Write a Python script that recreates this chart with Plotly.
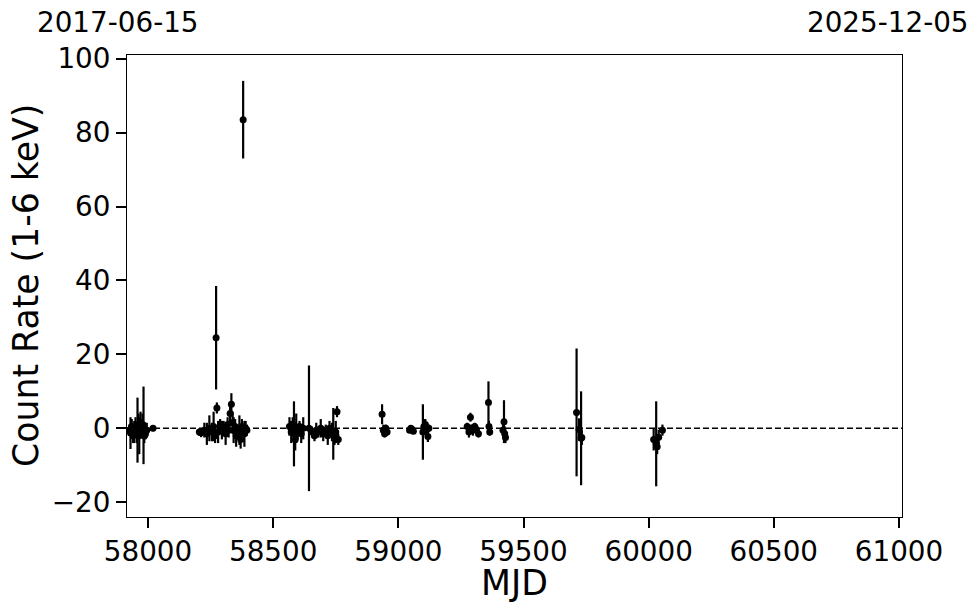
import plotly.graph_objects as go

# --- data (MJD, count rate, 1-sigma error) ---
mjd = [
    57925, 57930, 57935, 57940, 57945, 57950, 57955, 57958, 57962, 57965,
    57970, 57975, 57978, 57982, 57985, 57990, 57995, 58020,
    58205, 58212, 58225, 58235, 58245, 58255, 58262, 58268, 58272, 58275,
    58280, 58288, 58295, 58302, 58310, 58318, 58322, 58328, 58333, 58338,
    58342, 58348, 58352, 58358, 58365, 58370, 58375, 58380, 58385, 58390, 58395,
    58565, 58572, 58578, 58583, 58588, 58592, 58598, 58605, 58612, 58620,
    58643, 58655, 58665, 58672, 58680, 58690, 58700, 58710, 58718, 58725,
    58735, 58740, 58745, 58750, 58755, 58760,
    58935, 58940, 58945, 58950, 58955,
    59045, 59050, 59055, 59060,
    59098, 59102, 59108, 59112, 59118, 59122,
    59275, 59282, 59288, 59292, 59298, 59305, 59312, 59320,
    59360, 59362, 59365,
    59418, 59422, 59425, 59428,
    59712, 59722, 59730, 59733,
    60020, 60030, 60034, 60040, 60055,
]
rate = [
    -0.5, -1.3, 0.5, -2.0, -1.0, 0.5, -1.5, -0.5, 1.0, -2.0,
    1.5, 0.0, 1.0, 0.8, -2.0, -1.5, -0.5, 0.0,
    -1.0, -1.2, -0.5, -1.5, 0.0, -1.0, 0.5, -2.0, 24.5, 5.5,
    -1.0, 0.5, -0.5, 0.0, -1.5, 1.0, -0.5, 4.0, 6.5, 1.5,
    -0.5, 0.5, -2.0, -1.0, -0.5, -3.0, 0.5, 83.5, -1.5, 0.0, -0.5,
    0.5, -1.0, 1.0, -1.5, -3.0, 0.0, -1.0, 0.5, -1.5, 0.0,
    0.0, -1.0, -2.0, -0.5, -1.0, 0.0, -1.5, -0.5, -2.0, 0.0,
    -1.0, -1.5, -2.5, -1.0, 4.5, -3.0,
    3.8, -0.5, -1.5, 0.0, -1.0,
    -0.5, 0.0, -0.3, -0.8,
    -1.0, 0.5, 1.0, -0.5, -2.2, 0.0,
    0.5, -1.0, 3.0, 0.0, -0.5, 0.5, -0.3, -1.5,
    7.0, 0.5, -1.0,
    -0.5, 1.8, -1.5, -2.5,
    4.3, -0.3, -2.7, -2.5,
    -3.0, -4.2, -5.0, -2.4, -0.5,
]
err = [
    1.5, 4.3, 2.0, 2.0, 3.0, 2.5, 2.5, 8.8, 3.0, 5.0,
    3.0, 2.5, 3.0, 10.5, 2.0, 1.5, 2.0, 0.8,
    1.0, 1.2, 2.0, 3.0, 3.5, 2.5, 4.0, 2.0, 14.0, 1.5,
    3.0, 2.0, 2.5, 2.0, 3.0, 2.0, 2.0, 2.5, 3.0, 3.0,
    3.5, 2.0, 3.0, 2.0, 4.0, 2.5, 2.0, 10.5, 3.5, 2.0, 1.5,
    2.5, 3.0, 2.0, 8.8, 3.0, 4.0, 2.0, 1.5, 2.5, 3.0,
    17.0, 1.5, 1.5, 2.0, 1.5, 2.5, 2.0, 1.5, 2.5, 2.0,
    2.5, 7.0, 2.0, 3.0, 1.5, 1.5,
    2.7, 1.5, 1.0, 1.0, 1.0,
    0.5, 0.5, 0.5, 0.6,
    7.5, 2.0, 1.5, 2.0, 1.5, 1.0,
    1.0, 1.5, 1.2, 1.0, 1.5, 1.0, 1.0, 1.0,
    5.7, 1.5, 1.0,
    1.5, 5.8, 2.0, 1.5,
    17.3, 3.0, 12.7, 2.0,
    3.0, 11.5, 2.0, 2.0, 1.5,
]

x_range = [57916, 61012]
y_range = [-24, 101]
x_ticks = [58000, 58500, 59000, 59500, 60000, 60500, 61000]
y_ticks = [-20, 0, 20, 40, 60, 80, 100]
date_left = "2017-06-15"
date_right = "2025-12-05"
x_title = "MJD"
y_title = "Count Rate (1-6 keV)"

FONT = "DejaVu Sans"
PW, PH = 775, 462  # plot-area size in px

fig = go.Figure()
fig.add_trace(go.Scatter(
    x=mjd, y=rate, mode="markers",
    marker=dict(color="black", size=7, line=dict(width=0)),
    error_y=dict(type="data", array=err, visible=True,
                 color="black", thickness=2.2, width=0),
    showlegend=False,
))

fig.add_shape(type="line", xref="paper", x0=0, x1=1, yref="y", y0=0, y1=0,
              line=dict(color="black", width=1.5, dash="6px,3px"), layer="below")

axis_common = dict(
    showgrid=False, zeroline=False, showline=True, linecolor="black",
    linewidth=1, mirror=True, ticks="outside", ticklen=10, tickwidth=2,
    tickcolor="black", tickfont=dict(family=FONT, size=27.8, color="black"),
    automargin=False,
)

fig.update_xaxes(range=x_range, tickvals=x_ticks,
                 ticktext=[str(v) for v in x_ticks], **axis_common)
fig.update_yaxes(range=y_range, tickvals=y_ticks, **axis_common)

ann_font = dict(family=FONT, size=27.8, color="black")
title_font = dict(family=FONT, size=34.7, color="black")

fig.add_annotation(text=date_left, xref="paper", yref="paper",
                   x=(118 - 127) / PW, y=1 + 33 / PH, xanchor="center", yanchor="middle",
                   showarrow=False, font=ann_font)
fig.add_annotation(text=date_right, xref="paper", yref="paper",
                   x=(888 - 127) / PW, y=1 + 33 / PH, xanchor="center", yanchor="middle",
                   showarrow=False, font=ann_font)
fig.add_annotation(text=x_title, xref="paper", yref="paper",
                   x=0.5, y=-(583 - 517) / PH, xanchor="center", yanchor="middle",
                   showarrow=False, font=title_font)
fig.add_annotation(text=y_title, xref="paper", yref="paper", textangle=-90,
                   x=-(127 - 26) / PW, y=0.5, xanchor="center", yanchor="middle",
                   showarrow=False, font=title_font)

# the page adds an 8px body margin, so the figure is 8px smaller and offset
fig.update_layout(
    width=972, height=605,
    margin=dict(l=119, r=78, t=47, b=96, autoexpand=False),
    paper_bgcolor="white", plot_bgcolor="white",
)

fig.write_html("out.html")
